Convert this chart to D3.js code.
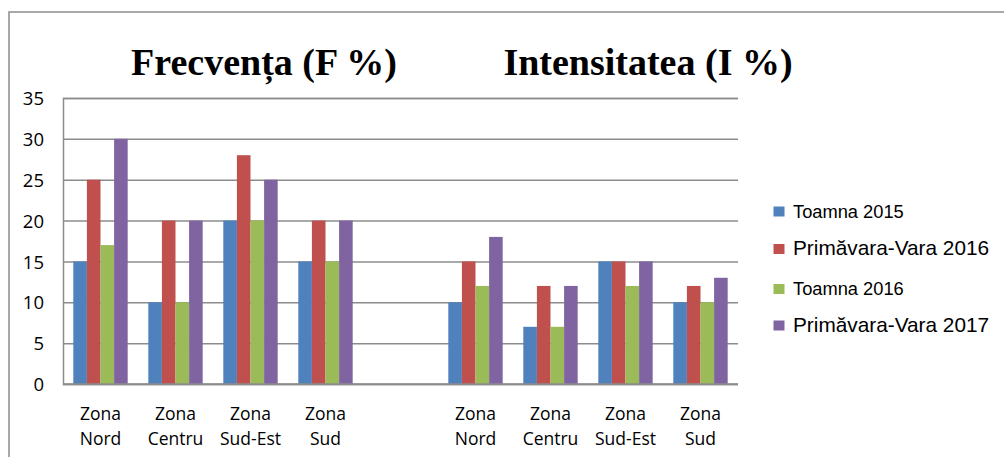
<!DOCTYPE html>
<html>
<head>
<meta charset="utf-8">
<script src="https://cdn.jsdelivr.net/npm/d3@7"></script>
<style>
  html, body { margin: 0; padding: 0; background: #fff; }
  svg { display: block; }
</style>
</head>
<body>
<svg id="chart" width="1004" height="457"></svg>
<script>
// ---- data ----
const zones = ["Zona Nord", "Zona Centru", "Zona Sud-Est", "Zona Sud"];
const panelTitles = ["Frecvența (F %)", "Intensitatea (I %)"];
const seriesNames = ["Toamna 2015", "Primăvara-Vara 2016", "Toamna 2016", "Primăvara-Vara 2017"];
const seriesColors = ["#4F81BD", "#C0504D", "#9BBB59", "#8064A2"];
const yTicks = [0, 5, 10, 15, 20, 25, 30, 35];

// Frecvența (F %)
const freqToamna2015 = [15, 10, 20, 15];
const freqPV2016     = [25, 20, 28, 20];
const freqToamna2016 = [17, 10, 20, 15];
const freqPV2017     = [30, 20, 25, 20];
// Intensitatea (I %)
const intToamna2015 = [10, 7, 15, 10];
const intPV2016     = [15, 12, 15, 12];
const intToamna2016 = [12, 7, 12, 10];
const intPV2017     = [18, 12, 15, 13];

(function () {
// ---- build category table (4 F, blank gap, 4 I) ----
const freqSeries = [freqToamna2015, freqPV2016, freqToamna2016, freqPV2017];
const intSeries  = [intToamna2015, intPV2016, intToamna2016, intPV2017];
const cats = [];
zones.forEach((z, i) => cats.push({ key: "F" + i, label: z, values: freqSeries.map(s => s[i]) }));
cats.push({ key: "gap", label: "", values: [] });
zones.forEach((z, i) => cats.push({ key: "I" + i, label: z, values: intSeries.map(s => s[i]) }));

const svg = d3.select("#chart");

// outer frame
svg.append("rect")
  .attr("x", 9).attr("y", 12)
  .attr("width", 1010).attr("height", 460)
  .attr("fill", "none").attr("stroke", "#8c8c8c").attr("stroke-width", 1.5);

const pLeft = 63, pRight = 738, pTop = 98, pBottom = 384;

const x = d3.scaleBand().domain(cats.map(c => c.key)).range([pLeft, pRight])
  .paddingInner(0.275).paddingOuter(0.1375);
const xs = d3.scaleBand().domain(d3.range(4)).range([0, x.bandwidth()]);
const y = d3.scaleLinear().domain([0, 35]).range([pBottom, pTop]);

// gridlines
const yAxis = d3.axisLeft(y).tickValues(yTicks).tickSize(-(pRight - pLeft)).tickPadding(19);
const gy = svg.append("g").attr("transform", `translate(${pLeft},0)`).call(yAxis);
gy.select(".domain").attr("stroke", "#8c8c8c").attr("stroke-width", 1.5);
gy.selectAll(".tick line").attr("stroke", "#8c8c8c").attr("stroke-width", 1.5);
gy.selectAll(".tick text")
  .attr("font-family", "'Open Sans', sans-serif").attr("font-size", 18.5)
  .attr("fill", "#000").attr("dy", "0.36em");

// bars
const groups = svg.append("g").selectAll("g").data(cats).join("g")
  .attr("transform", d => `translate(${x(d.key)},0)`);
groups.selectAll("rect").data(d => d.values).join("rect")
  .attr("x", (v, i) => xs(i))
  .attr("width", xs.bandwidth())
  .attr("y", v => y(v))
  .attr("height", v => y(0) - y(v))
  .attr("fill", (v, i) => seriesColors[i]);

// redraw baseline on top
svg.append("line").attr("x1", pLeft).attr("x2", pRight)
  .attr("y1", y(0)).attr("y2", y(0))
  .attr("stroke", "#8c8c8c").attr("stroke-width", 1.5);

// category labels
const xl = svg.append("g");
cats.filter(c => c.label).forEach(c => {
  const words = c.label.split(" ");
  const cx = x(c.key) + x.bandwidth() / 2;
  const t = xl.append("text")
    .attr("text-anchor", "middle")
    .attr("font-family", "'Open Sans', sans-serif").attr("font-size", 17.5)
    .attr("fill", "#000");
  t.append("tspan").attr("x", cx).attr("y", 420).text(words[0]);
  t.append("tspan").attr("x", cx).attr("y", 445).text(words.slice(1).join(" "));
});

// panel titles
const titleX = [264, 648];
panelTitles.forEach((t, i) => {
  svg.append("text")
    .attr("x", titleX[i]).attr("y", 75)
    .attr("text-anchor", "middle")
    .attr("font-family", "'Liberation Serif', 'Times New Roman', serif")
    .attr("font-weight", "bold").attr("font-size", 38)
    .attr("fill", "#000").text(t);
});

// legend
const legendBase = [217.5, 255, 295, 331.5];
const lg = svg.append("g");
seriesNames.forEach((name, i) => {
  const big = i % 2 === 1;
  lg.append("rect").attr("x", 773.5).attr("y", legendBase[i] - 11)
    .attr("width", 11).attr("height", 10).attr("fill", seriesColors[i]);
  lg.append("text").attr("x", 793).attr("y", legendBase[i])
    .attr("font-family", "'Liberation Sans', Arial, sans-serif")
    .attr("font-size", big ? 20.8 : 18.3)
    .attr("fill", "#000").text(name);
});
})();
</script>
</body>
</html>
